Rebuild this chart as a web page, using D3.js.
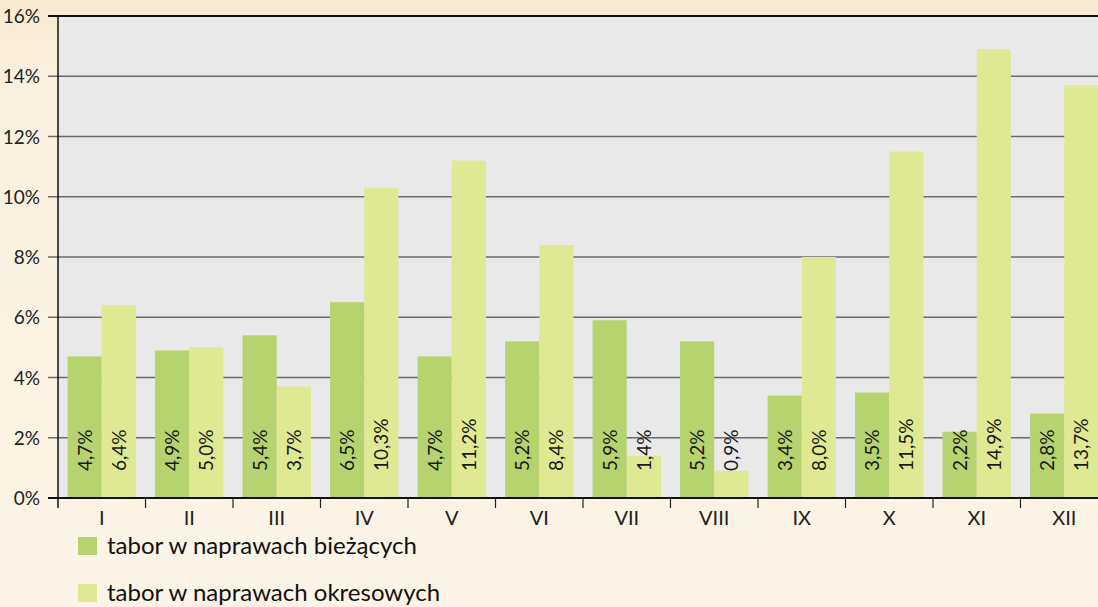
<!DOCTYPE html>
<html>
<head>
<meta charset="utf-8">
<script src="https://cdn.jsdelivr.net/npm/d3@7"></script>
<style>
  body { margin: 0; overflow: hidden; }
  svg { display: block; font-family: Lato, "Open Sans", sans-serif; }
</style>
</head>
<body>
<script>
var width = 1098,
    height = 607;

var months = ["I", "II", "III", "IV", "V", "VI", "VII", "VIII", "IX", "X", "XI", "XII"];
var biezace = [4.7, 4.9, 5.4, 6.5, 4.7, 5.2, 5.9, 5.2, 3.4, 3.5, 2.2, 2.8];
var okresowe = [6.4, 5.0, 3.7, 10.3, 11.2, 8.4, 1.4, 0.9, 8.0, 11.5, 14.9, 13.7];
var yTicks = [0, 2, 4, 6, 8, 10, 12, 14, 16];
var seriesNames = ["tabor w naprawach bieżących", "tabor w naprawach okresowych"];
var colors = ["#b6d36f", "#dfe893"];

var plotL = 58, plotT = 16, plotB = 498, plotR = 1108;

var svg = d3.select("body").append("svg")
    .attr("width", width)
    .attr("height", height);

// page background
var grad = svg.append("defs").append("linearGradient")
    .attr("id", "bg").attr("x1", 0).attr("y1", 0).attr("x2", 0).attr("y2", 1);
grad.append("stop").attr("offset", "0").attr("stop-color", "#f6e9d0");
grad.append("stop").attr("offset", "0.15").attr("stop-color", "#faf1e0");
grad.append("stop").attr("offset", "1").attr("stop-color", "#fcf4e6");
svg.append("rect").attr("width", width).attr("height", height).attr("fill", "url(#bg)");

var x = d3.scaleBand().domain(months).range([plotL, plotR]).paddingInner(0).paddingOuter(0);
var xInner = d3.scaleBand().domain([0, 1]).range([0, x.bandwidth()]).paddingOuter(0.28).paddingInner(0);
var y = d3.scaleLinear().domain([0, 16]).range([plotB, plotT]);

// plot area
svg.append("rect")
    .attr("x", plotL).attr("y", plotT)
    .attr("width", plotR - plotL).attr("height", plotB - plotT)
    .attr("fill", "#e9e9e9");

// gridlines
svg.append("g").selectAll("line").data(yTicks.slice(1, -1))
  .enter().append("line")
    .attr("x1", plotL - 10).attr("x2", plotR)
    .attr("y1", d => y(d)).attr("y2", d => y(d))
    .attr("stroke", "#6b6b6b").attr("stroke-width", 1.6);

// bars
var groups = svg.append("g").selectAll("g").data(months)
  .enter().append("g")
    .attr("transform", d => "translate(" + x(d) + ",0)");

[biezace, okresowe].forEach(function(vals, s) {
  groups.append("rect")
      .attr("x", xInner(s))
      .attr("width", xInner.bandwidth())
      .attr("y", (d, i) => y(vals[i]))
      .attr("height", (d, i) => plotB - y(vals[i]))
      .attr("fill", colors[s]);

  groups.append("text")
      .attr("transform", "translate(" + (xInner(s) + xInner.bandwidth() / 2 + 7) + "," + (plotB - 27) + ") rotate(-90)")
      .attr("font-size", 19)
      .attr("fill", "#1a1a1a")
      .text((d, i) => vals[i].toFixed(1).replace(".", ",") + "%");
});

// top border and axes
svg.append("line")
    .attr("x1", plotL - 10).attr("x2", plotR)
    .attr("y1", y(16)).attr("y2", y(16))
    .attr("stroke", "#111").attr("stroke-width", 2);
svg.append("line")
    .attr("x1", plotL - 10).attr("x2", plotR)
    .attr("y1", plotB).attr("y2", plotB)
    .attr("stroke", "#111").attr("stroke-width", 2);
svg.append("line")
    .attr("x1", plotL).attr("x2", plotL)
    .attr("y1", plotT).attr("y2", plotB + 10)
    .attr("stroke", "#111").attr("stroke-width", 1.5);

// x ticks at category boundaries
svg.append("g").selectAll("line").data(months.slice(1))
  .enter().append("line")
    .attr("x1", d => x(d)).attr("x2", d => x(d))
    .attr("y1", plotB).attr("y2", plotB + 10)
    .attr("stroke", "#222").attr("stroke-width", 1.2);

// y labels
svg.append("g").selectAll("text").data(yTicks)
  .enter().append("text")
    .attr("x", 40).attr("y", d => y(d) + 7)
    .attr("text-anchor", "end")
    .attr("font-size", 19)
    .attr("fill", "#222")
    .text(d => d + "%");

// x labels
svg.append("g").selectAll("text").data(months)
  .enter().append("text")
    .attr("x", d => x(d) + x.bandwidth() / 2)
    .attr("y", 525)
    .attr("text-anchor", "middle")
    .attr("font-size", 20)
    .attr("fill", "#222")
    .text(d => d);

// legend
var legend = svg.append("g").selectAll("g").data(seriesNames)
  .enter().append("g")
    .attr("transform", (d, i) => "translate(78," + (537 + i * 47) + ")");
legend.append("rect")
    .attr("width", 19).attr("height", 18)
    .attr("fill", (d, i) => colors[i]);
legend.append("text")
    .attr("x", 29).attr("y", 17)
    .attr("font-size", 24)
    .attr("fill", "#111")
    .text(d => d);
</script>
</body>
</html>
